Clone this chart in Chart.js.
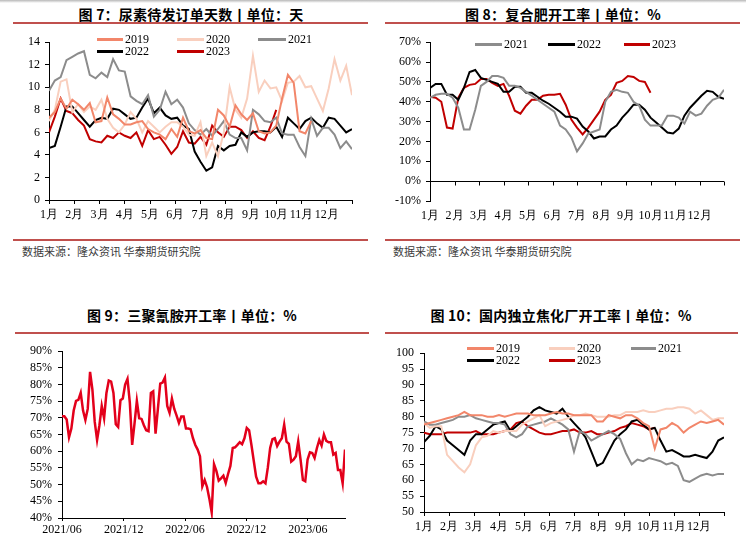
<!DOCTYPE html>
<html><head><meta charset="utf-8">
<script src="https://cdn.jsdelivr.net/npm/chart.js@4.4.0/dist/chart.umd.min.js"></script>
<style>
html,body{margin:0;padding:0}
body{width:746px;height:543px;position:relative;background:#fff;overflow:hidden;font-family:"Noto Sans CJK SC","Noto Sans",sans-serif}
.topbar{position:absolute;left:0;top:0;width:746px;height:3px;background:linear-gradient(#b8b8b8,#fff)}
.title{position:absolute;font-weight:bold;font-size:14px;color:#000;transform:translate(-50%,-50%);white-space:nowrap;letter-spacing:0.2px}
.rule{position:absolute;height:2px;background:#C0504D}
.src{position:absolute;font-size:11px;color:#3a3a3a;transform:translateY(-50%);white-space:nowrap}
canvas{position:absolute}
.lgl{position:absolute;height:3px}
.lgt{position:absolute;font-family:"Liberation Serif","Times New Roman",serif;font-size:12px;color:#000;transform:translateY(-50%);white-space:nowrap;line-height:1}
</style>
</head><body>
<div class="topbar"></div>

<div class="title" style="left:191px;top:14px">图 7：尿素待发订单天数丨单位：天</div>
<div class="rule" style="left:13px;top:22px;width:355px"></div>
<div class="rule" style="left:13px;top:239px;width:355px"></div>
<div class="src" style="left:22px;top:251px">数据来源：隆众资讯 华泰期货研究院</div>
<canvas id="c1" width="360" height="200" style="left:0;top:30px"></canvas>

<div class="title" style="left:563px;top:14px">图 8：复合肥开工率丨单位：%</div>
<div class="rule" style="left:385px;top:22px;width:355px"></div>
<div class="rule" style="left:385px;top:239px;width:355px"></div>
<div class="src" style="left:393px;top:251px">数据来源：隆众资讯 华泰期货研究院</div>
<canvas id="c2" width="362" height="201" style="left:370px;top:30px"></canvas>

<div class="title" style="left:192px;top:315px">图 9：三聚氰胺开工率丨单位：%</div>
<div class="rule" style="left:15px;top:332px;width:354px"></div>
<canvas id="c3" width="360" height="205" style="left:0;top:338px"></canvas>

<div class="title" style="left:561px;top:315px">图 10：国内独立焦化厂开工率丨单位：%</div>
<div class="rule" style="left:385px;top:332px;width:353px"></div>
<canvas id="c4" width="360" height="203" style="left:373px;top:340px"></canvas>

<script>
// ---------- shared ----------
const monthLabels = ['1月','2月','3月','4月','5月','6月','7月','8月','9月','10月','11月','12月'];
const weeksPerYear = 52;

// ---------- 图7 尿素待发订单天数 (天, weekly) ----------
const urea2019 = [7.3,7.8,9.0,8.1,8.9,8.5,8.0,8.6,6.9,7.0, 9.1,7.6,7.2,6.7,6.7,6.9,7.0,6.3,6.0,5.8, 5.4,6.3,5.6,7.3,6.1,5.9,6.2,5.5,5.4,8.0, 7.5,6.5,8.4,7.6,7.1,7.7,6.1,5.9,6.0,6.6, 9.0,11.1,10.4,6.1,5.9,7.0];
const urea2020 = [7.0,8.0,10.5,10.7,7.8,8.5,7.8,8.3,8.0,8.9, 7.2,6.4,6.0,6.7,7.8,7.2,6.0,7.0,6.5,6.0, 6.5,6.9,6.9,6.5,5.8,5.7,6.9,3.9,5.1,3.9, 6.0,10.0,8.0,7.3,9.0,12.8,9.6,10.6,9.9,10.0, 8.8,10.4,10.5,11.0,10.0,10.1,9.0,7.9,9.9,12.5, 10.6,11.9,9.3];
const urea2021 = [9.7,10.6,10.9,12.4,12.7,13.0,13.2,11.1,10.8,11.3, 10.9,12.5,11.5,11.4,9.2,8.8,8.5,9.3,7.4,8.0, 9.6,8.5,8.9,8.2,6.8,6.2,5.8,6.3,5.7,6.3, 7.0,5.8,5.5,5.5,4.4,8.0,7.6,7.0,6.9,7.3, 5.9,5.8,5.8,4.7,3.9,7.2,5.7,6.4,6.4,5.8, 4.6,5.2,4.5];
const urea2022 = [4.6,4.8,6.5,8.3,8.3,7.7,7.1,6.5,7.1,7.3, 7.2,8.1,8.0,7.6,7.2,7.3,8.2,9.0,7.7,8.2, 7.5,7.2,7.3,6.6,6.3,4.3,3.4,2.6,2.9,4.8, 4.4,4.8,4.9,6.0,5.6,6.0,6.1,6.1,6.0,6.5, 5.6,7.3,6.8,6.3,7.0,7.3,6.8,6.4,7.3,7.2, 6.6,6.0,6.3];
const urea2023 = [6.0,7.4,9.0,7.9,7.7,7.1,6.6,5.4,5.2,5.1, 5.7,5.5,6.0,5.7,5.5,6.0,4.8,6.2,5.4,5.6, 4.9,4.1,4.7,6.1,5.1,5.0,5.6,4.9,6.6,6.0, 5.6,6.5,6.5,6.2,5.5,6.1,5.5,5.3,6.5,8.0];
const ureaTicks = [0,2,4,6,8,10,12,14];

// ---------- 图8 复合肥开工率 (%, weekly) ----------
const npk2021 = [42,43.5,44,44,42,37,26,26,36,48, 50,53,53,52,48,48,47,45,43,41, 39,37,35,28,26,22,15,19,24,25, 26,40,45,46,45,44.5,40,38,31,28, 28,28,33,33,32,29,35,33,34,38, 41,42,46];
const npk2022 = [47,49,49,43.5,43.5,41,47,55,56,52, 51,50,49,45,45,47.5,47.5,44.5,44.5,42.5, 40.5,39,37,35,32.5,32.5,31.5,27.5,25,21.5, 22.5,22.5,26,28,32,35,38.5,38.5,36,32, 29.5,27,24.5,24,26.5,33,37,40,43,45.5, 45,42.5,41.5];
const npk2023 = [42.5,42,40,27,26.5,42,47,48.5,49,51.5, 51.5,49.5,48,49,43,35.5,34,38,41,41, 43,43.5,43.5,44,38.5,31,27,23.5,27,31, 35,41,43.5,49.5,50.5,53,52.5,50.5,50,44.5];
const npkTicks = [-10,0,10,20,30,40,50,60,70];

// ---------- 图9 三聚氰胺开工率 (%, weekly from 2021/06) ----------
const melamine = [70.5,70.5,69.5,64.2,66.8,72.2,75.1,75.4,77.5,72.2, 69.4,72.7,83.8,78.5,68.8,63.4,67.8,73.6,69.9,77.5, 81.2,80.9,77.5,68.1,67.3,75.3,75.8,80.0,81.7,74.6, 61.9,68.3,75.1,69.9,69.7,67.8,66.3,66.0,77.5,78.0, 65.3,72.7,80.3,80.6,82.1,73.6,71.5,75.8,72.7,70.7, 68.5,70.4,70.4,66.8,66.8,66.6,63.9,61.9,60.5,58.5, 49.5,51.4,49.3,45.8,41.7,56.1,54.1,51.2,51.9,52.7, 50.5,53.2,55.6,61.0,61.2,61.9,62.7,62.1,63.9,67.0, 66.3,61.9,57.1,52.4,50.4,50.4,51.0,50.4,55.1,61.0, 63.6,63.9,61.6,62.9,63.9,68.0,62.9,62.2,56.9,57.5, 58.5,62.9,57.5,51.4,51.0,57.5,59.7,59.5,58.0,61.0, 63.4,61.7,65.0,63.1,62.7,62.7,59.0,59.5,54.4,54.4, 50.4,60.5];
const melDateLabels = ['2021/06','2021/12','2022/06','2022/12','2023/06'];
const melDateWeeks = [0,26.4,52.6,78.9,105.1];
const melTicks = [40,45,50,55,60,65,70,75,80,85,90];

// ---------- 图10 国内独立焦化厂开工率 (%, weekly) ----------
const coke2019 = [77.5,78,78.5,79,79.5,80,80.5,81.5,80.5,80.5, 80.5,80,80,80.5,80,80.5,81,81,81,80.5, 80.5,80.5,81,81.5,81,81,80.5,80.5,80.5,80.5, 78.5,78.5,80.5,80,79.5,80.5,80.5,79.5,78,77, 70,76,76.5,78,77,75,76.5,77.5,78.5,78, 78.5,79,77.5];
const coke2020 = [78,76.5,77,77,68,66,64,62.5,65,71, 73.5,74,75.5,75,75.5,75.5,75.5,77.5,78.5,79.5, 80.5,77,78,78.5,79,79.5,80.5,80.5,81,80.5, 80,80,80,80.5,80.5,81.5,81.5,81.5,82,81.5, 81.5,82,82.5,82.5,83,83,82.5,81,82,80.5, 79,79.5,79.5];
const coke2021 = [78.5,77.5,77.5,78,78.5,79,80,80,80.5,79.5, 79,78.5,78,78,77.5,74.5,73.5,74.5,77,77.5, 78,78.5,79.5,78.5,77.5,76,69,75.5,74.5,72.5, 73.5,74.5,75.5,74.5,73,68.5,65,66.5,66,67, 66.5,66,65,65.5,64.5,60,59.5,60.5,61.5,62, 61.5,62,62];
const coke2022 = [72,74,77,76,72.5,71,69.5,68,72.5,74.5, 74.5,76,77.5,78,78.5,75.5,77,78.5,80,82, 83,82,81.5,81,82.5,80,78,76,73.5,69, 64.5,65.5,69,72.5,74.5,76,78.5,79,77.5,76, 76.5,72.5,69,69.5,68.5,67.5,67.5,68,67.5,67, 69,72.5,73.5];
const coke2023 = [75,74.5,74.5,74.5,75,75,75,75,75,75.5, 74.5,74.5,74.5,75,75.5,76,78,78.5,77,76, 75,74.5,74.5,75,75.5,75.5,76,75,75,75.5, 74.5,74.5,75,75.5,76.5,77,78,77.5,77,76, 76.5];
const cokeTicks = [50,55,60,65,70,75,80,85,90,95,100];

// colours
const C19 = '#F2866A', C20 = '#F9CFBE', C21 = '#8C8C8C', C22 = '#000000', C23 = '#C00000', C_MEL = '#E3001B';

// ---------- helpers ----------
const FONT = {family:'"Liberation Serif","Times New Roman",serif', size:12};
const pts = arr => arr.map((v,i)=>({x:i,y:v}));
const ds = (label, arr, color, w) => ({label, data:pts(arr), borderColor:color, backgroundColor:color, borderWidth:w||2, pointRadius:0, tension:0, fill:false});
const monthTickVals = Array.from({length:13},(_,k)=>k*weeksPerYear/12);

function makeChart(id, datasets, o){
  const xAxis = {
    type:'linear', min:o.xMin, max:o.xMax,
    afterBuildTicks: s => { s.ticks = o.xVals.map(v=>({value:v})); },
    afterFit: s => { s.height = o.xH; },
    ticks:{autoSkip:false, maxRotation:0, minRotation:0, padding:o.xPad, color:'#000', font:o.xFont||FONT,
      callback:(v,i)=> o.xLabels[i] !== undefined ? o.xLabels[i] : ''},
    grid:{display:o.xGrid!==false, drawOnChartArea:false, drawTicks:o.xGrid!==false, tickLength:o.xTick, color:'#000', lineWidth:1},
    border:{display:o.xBorder!==false, color:'#000', width:1}
  };
  const yAxis = {
    type:'linear', min:o.yMin, max:o.yMax,
    afterBuildTicks: s => { s.ticks = o.yVals.map(v=>({value:v})); },
    afterFit: s => { s.width = o.yW; },
    ticks:{autoSkip:false, padding:o.yPad, color:'#000', font:o.yFont||FONT, callback:o.yFmt || (v=>v)},
    grid:{drawOnChartArea:false, drawTicks:true, tickLength:o.yTick, color:'#000', lineWidth:1},
    border:{display:true, color:'#000', width:1}
  };
  return new Chart(document.getElementById(id), {
    type:'line',
    data:{datasets},
    options:{
      responsive:false, animation:false, devicePixelRatio:1,
      layout:{padding:o.pad},
      plugins:{legend:{display:false}, tooltip:{enabled:false}},
      scales:{x:xAxis, y:yAxis}
    },
    plugins:o.plugins||[]
  });
}

// zero line with month tick marks (图8)
const zeroLinePlugin = {
  id:'zeroLine',
  beforeDatasetsDraw(chart){
    const {ctx, chartArea, scales:{x,y}} = chart;
    const py = Math.round(y.getPixelForValue(0)) + 0.5;
    ctx.save();
    ctx.strokeStyle = '#000'; ctx.lineWidth = 1;
    ctx.beginPath();
    ctx.moveTo(chartArea.left, py); ctx.lineTo(chartArea.right, py);
    x.ticks.forEach(t=>{ const px = Math.round(x.getPixelForValue(t.value))+0.5; ctx.moveTo(px, py); ctx.lineTo(px, py+4); });
    ctx.stroke();
    ctx.restore();
  }
};

// legends (HTML)
function legend(items){
  items.forEach(it=>{
    const l = document.createElement('div'); l.className='lgl';
    l.style.left = it.x+'px'; l.style.top = (it.y-1.5)+'px'; l.style.width = it.w+'px'; l.style.background = it.color;
    document.body.appendChild(l);
    const t = document.createElement('div'); t.className='lgt'; t.textContent = it.text;
    t.style.left = (it.x+it.w+2)+'px'; t.style.top = it.y+'px';
    if (it.fs) t.style.fontSize = it.fs+'px';
    document.body.appendChild(t);
  });
}

// ---------- charts ----------
makeChart('c1', [
  ds('2019', urea2019, C19), ds('2020', urea2020, C20), ds('2021', urea2021, C21),
  ds('2022', urea2022, C22), ds('2023', urea2023, C23)
], {xMin:0, xMax:weeksPerYear, xVals:monthTickVals, xLabels:monthLabels, xH:30, xPad:4, xTick:4,
    yMin:0, yMax:14, yVals:ureaTicks, yW:49, yPad:5, yTick:4, pad:{top:9, right:8, left:0, bottom:0}});

makeChart('c2', [
  ds('2021', npk2021, C21), ds('2022', npk2022, C22), ds('2023', npk2023, C23)
], {xMin:0, xMax:weeksPerYear, xVals:monthTickVals, xLabels:monthLabels, xH:30, xPad:8, xTick:0, xGrid:false, xBorder:false,
    yMin:-10, yMax:70, yVals:npkTicks, yW:60, yPad:5, yTick:4, yFmt:v=>v+'%', pad:{top:9, right:7, left:0, bottom:0},
    plugins:[zeroLinePlugin]});

makeChart('c3', [ ds('三聚氰胺', melamine, C_MEL, 2.5) ],
  {xMin:0, xMax:melamine.length-1, xVals:melDateWeeks, xLabels:melDateLabels, xH:25, xPad:2, xTick:3,
   yMin:40, yMax:90, yVals:melTicks, yW:62, yPad:6, yTick:4, yFmt:v=>v+'%', pad:{top:9, right:15, left:0, bottom:0}});

makeChart('c4', [
  ds('2019', coke2019, C19), ds('2020', coke2020, C20), ds('2021', coke2021, C21),
  ds('2022', coke2022, C22), ds('2023', coke2023, C23)
], {xMin:0, xMax:weeksPerYear, xVals:monthTickVals, xLabels:monthLabels, xH:31, xPad:4, xTick:4,
    yMin:50, yMax:100, yVals:cokeTicks, yW:51, yPad:6, yTick:4, pad:{top:9, right:9, left:0, bottom:0}});

legend([
  {x:97, y:39, w:26, color:C19, text:'2019'},
  {x:177, y:39, w:27, color:C20, text:'2020'},
  {x:258, y:39, w:28, color:C21, text:'2021'},
  {x:97, y:51, w:26, color:C22, text:'2022'},
  {x:177, y:51, w:27, color:C23, text:'2023'},
  {x:475, y:44, w:27, color:C21, text:'2021'},
  {x:548, y:44, w:27, color:C22, text:'2022'},
  {x:624, y:44, w:26, color:C23, text:'2023'},
  {x:467, y:348, w:27, color:C19, text:'2019'},
  {x:549, y:348, w:26, color:C20, text:'2020'},
  {x:631, y:348, w:25, color:C21, text:'2021'},
  {x:467, y:360, w:27, color:C22, text:'2022'},
  {x:549, y:360, w:26, color:C23, text:'2023'}
]);
</script>
</body></html>
